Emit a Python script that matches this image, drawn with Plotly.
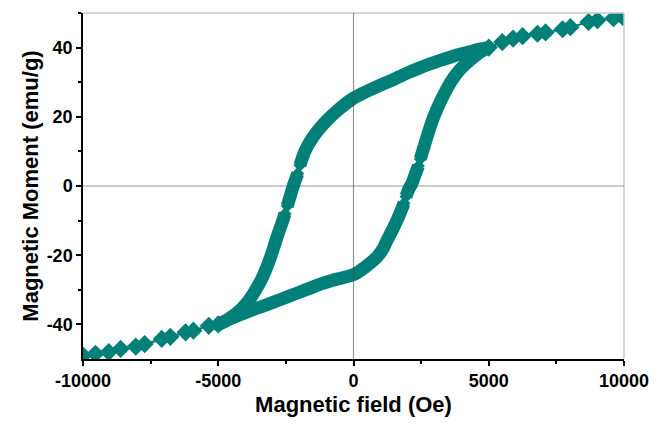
import plotly.graph_objects as go

# Descending branch (upper part of loop), field in Oe, moment in emu/g (None = gap between points)
loop_desc_H = [5000, 4700, 4400, 4000, 3600, 3200, 2800, 2400, 2000, 1700, 1400, 1000, 700, 400, 0,
               -300, -600, -900, -1200, -1500, -1800, -1980, None, -2060, -2200, -2320, -2450, None,
               -2530, -2650, -2750, -2850, -3000, -3200, -3400, -3600, -3800, -4000, -4250, -4500, -4750, -5000]
loop_desc_M = [40.0, 39.6, 39.0, 38.2, 37.3, 36.3, 35.2, 34.0, 32.7, 31.6, 30.5, 29.2, 28.1, 27.0, 25.4,
               23.7, 21.8, 19.6, 17.1, 14.1, 10.0, 6.0, None, 3.6, 0.6, -2.4, -5.8, None,
               -8.0, -10.8, -13.0, -15.3, -19.0, -23.4, -27.0, -29.8, -32.3, -34.3, -36.3, -37.8, -39.1, -40.0]

# Ascending branch (lower part of loop)
loop_asc_H = [-5000, -4700, -4400, -4000, -3600, -3200, -2800, -2400, -2000, -1600, -1200, -800, -400, 0,
              400, 880, 1100, 1245, 1450, 1615, 1750, 1870, None, 1940, 2050, 2170, 2280, 2400, None,
              2470, 2600, 2750, 2900, 3100, 3300, 3500, 3700, 3900, 4200, 4500, 4750, 5000]
loop_asc_M = [-40.0, -38.9, -37.9, -36.6, -35.4, -34.3, -33.1, -31.9, -30.7, -29.5, -28.3, -27.3, -26.5, -25.6,
              -23.6, -20.4, -18.0, -15.6, -12.5, -9.8, -7.3, -5.0, None, -3.0, -0.8, 0.9, 3.3, 5.8, None,
              7.8, 11.2, 15.0, 18.6, 22.5, 25.8, 28.8, 31.3, 33.3, 35.6, 37.6, 39.0, 40.0]

# Saturated tails (both branches)
tail_pos_H = [5000, 5500, 5900, 6250, 6800, 7100, 7730, 8020, 8690, 9020, 9610, 9950]
tail_pos_M = [40.0, 41.6, 42.6, 43.3, 44.0, 44.4, 45.3, 45.9, 47.4, 47.9, 48.5, 48.9]
tail_neg_H = [-10000, -9540, -9050, -8610, -8050, -7720, -7090, -6770, -6210, -5920, -5350, -5000]
tail_neg_M = [-49.0, -48.5, -48.0, -47.1, -46.4, -45.7, -44.2, -43.6, -42.3, -41.8, -40.4, -40.0]

x_ticks = [-10000, -5000, 0, 5000, 10000]
y_ticks = [-40, -20, 0, 20, 40]

teal = "#008079"
fig = go.Figure()
for hx, my in [(loop_desc_H, loop_desc_M), (loop_asc_H, loop_asc_M)]:
    fig.add_trace(go.Scatter(x=hx, y=my, mode="lines+markers", connectgaps=False,
                             line=dict(color=teal, width=13, shape="spline", smoothing=0.6),
                             marker=dict(symbol="diamond", size=10, color=teal),
                             showlegend=False, hoverinfo="skip"))
for hx, my in [(tail_pos_H, tail_pos_M), (tail_neg_H, tail_neg_M)]:
    fig.add_trace(go.Scatter(x=hx, y=my, mode="lines+markers",
                             line=dict(color=teal, width=2.2),
                             marker=dict(symbol="diamond", size=14, color=teal),
                             showlegend=False, hoverinfo="skip"))

font = dict(family="Liberation Sans, Arial, sans-serif", color="black")
fig.update_layout(
    width=662, height=424,
    margin=dict(l=83, r=38, t=13, b=65),
    paper_bgcolor="white", plot_bgcolor="white",
    font=font,
    xaxis=dict(range=[-10000, 10000], tickvals=x_ticks, ticktext=[f"<b>{v}</b>" for v in x_ticks],
               showgrid=False, zeroline=False, showline=True, linecolor="black", linewidth=1.5,
               ticks="outside", ticklen=5, tickwidth=1.5, tickcolor="black", tickfont=dict(size=18),
               minor=dict(tickvals=[-7500, -2500, 2500, 7500], ticks="outside", ticklen=3, tickwidth=1.5, tickcolor="black"),
               title=dict(text="<b>Magnetic field (Oe)</b>", font=dict(size=22), standoff=6)),
    yaxis=dict(range=[-50, 50], tickvals=y_ticks, ticktext=[f"<b>{v}</b>" for v in y_ticks],
               showgrid=False, zeroline=False, showline=True, linecolor="black", linewidth=1.5,
               ticks="outside", ticklen=5, tickwidth=1.5, tickcolor="black", tickfont=dict(size=18),
               minor=dict(tickvals=[-30, -10, 10, 30, 50], ticks="outside", ticklen=3, tickwidth=1.5, tickcolor="black"),
               title=dict(text="<b>Magnetic Moment (emu/g)</b>", font=dict(size=22), standoff=2)),
    shapes=[
        dict(type="line", xref="paper", yref="paper", x0=0, x1=1, y0=1, y1=1, line=dict(color="#c8c8c8", width=1.5)),
        dict(type="line", xref="paper", yref="paper", x0=1, x1=1, y0=0, y1=1, line=dict(color="#c8c8c8", width=1.5)),
        dict(type="line", xref="x", yref="paper", x0=0, x1=0, y0=0, y1=1, layer="above",
             line=dict(color="rgba(80,80,80,0.6)", width=1.2)),
        dict(type="line", xref="paper", yref="y", x0=0, x1=1, y0=0, y1=0, layer="above",
             line=dict(color="rgba(80,80,80,0.6)", width=1.2)),
    ],
)
fig.write_html("out.html")
